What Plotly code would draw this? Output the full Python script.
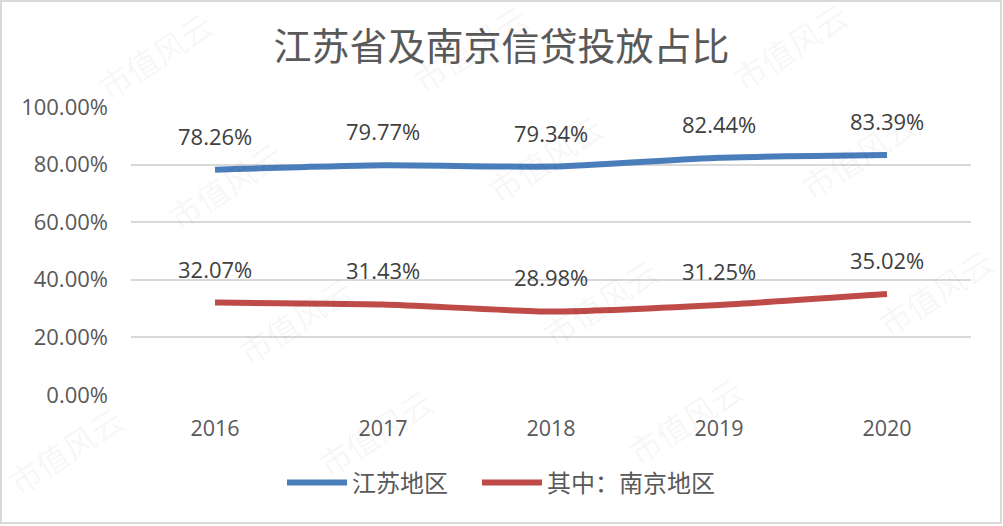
import plotly.graph_objects as go

# ---- data ----
years = ["2016", "2017", "2018", "2019", "2020"]
jiangsu = [0.7826, 0.7977, 0.7934, 0.8244, 0.8339]
nanjing = [0.3207, 0.3143, 0.2898, 0.3125, 0.3502]
series_names = ["江苏地区", "其中：南京地区"]
title_text = "江苏省及南京信贷投放占比"
y_ticks = [0, 0.2, 0.4, 0.6, 0.8, 1.0]
y_tick_labels = ["0.00%", "20.00%", "40.00%", "60.00%", "80.00%", "100.00%"]
watermark_text = "市值风云"

# ---- layout constants ----
W, H = 1003, 526
L, R, T, B = 131, 32, 107, 131
BLUE = "#4A7EBB"
RED = "#BE4B48"
GREY_TXT = "#595959"
GRID = "#D9D9D9"
NUM_FONT = "Open Sans"
CJK_FONT = "Noto Sans CJK SC"

plot_w = W - L - R
plot_h = H - T - B


def px_to_paper(px, py):
    return (px - L) / plot_w, (H - B - py) / plot_h


fig = go.Figure()
for name, vals, col, lg in [(series_names[0], jiangsu, BLUE, "legend"),
                            (series_names[1], nanjing, RED, "legend2")]:
    fig.add_trace(go.Scatter(
        x=years, y=vals, name=name, mode="lines", legend=lg,
        line=dict(color=col, width=6, shape="spline", smoothing=0.6),
        hoverinfo="skip",
    ))

annotations = []
for vals in (jiangsu, nanjing):
    for i, v in enumerate(vals):
        annotations.append(dict(
            x=i, y=v, xref="x", yref="y", text=f"{v*100:.2f}%",
            showarrow=False, yshift=34, xanchor="center", yanchor="middle",
            font=dict(family=NUM_FONT, size=22, color="#404040"),
        ))

# watermark (decorative, very faint)
wm_pos = [(155, 55), (470, 48), (790, 46),
          (225, 185), (545, 158), (858, 155),
          (295, 320), (600, 302), (935, 292),
          (65, 450), (375, 432), (685, 420)]
for (px, py) in wm_pos:
    xp, yp = px_to_paper(px, py)
    annotations.append(dict(
        x=xp, y=yp, xref="paper", yref="paper", text=watermark_text,
        showarrow=False, textangle=-33, xanchor="center", yanchor="middle",
        font=dict(family=CJK_FONT, size=32, color="rgba(0,0,0,0.055)"),
    ))

# outer border
bx0, by0 = px_to_paper(1, 1)
bx1, by1 = px_to_paper(1001, 523)
shapes = [dict(type="rect", xref="paper", yref="paper", x0=bx0, y0=by1, x1=bx1, y1=by0,
               line=dict(color="#D9D9D9", width=2), layer="above")]

legend_common = dict(orientation="h", xanchor="left", xref="container",
                     y=1 - 483 / H, yanchor="middle", yref="container",
                     font=dict(family=CJK_FONT, size=24, color=GREY_TXT),
                     itemwidth=60, bgcolor="rgba(0,0,0,0)")

fig.update_layout(
    width=W, height=H,
    margin=dict(l=L, r=R, t=T, b=B),
    paper_bgcolor="white", plot_bgcolor="white",
    title=dict(text=title_text, x=0.5, xanchor="center", xref="container",
               y=1 - 47 / H, yanchor="middle", yref="container",
               font=dict(family=CJK_FONT, size=38, color=GREY_TXT)),
    xaxis=dict(type="category", range=[-0.5, 4.5], showgrid=False, zeroline=False,
               showline=False, ticks="", ticklabelstandoff=18,
               tickfont=dict(family=NUM_FONT, size=21.5, color=GREY_TXT)),
    yaxis=dict(range=[-0.0005, 1.0005], tickvals=y_ticks, ticktext=y_tick_labels,
               showgrid=True, gridcolor=GRID, gridwidth=2, zeroline=False,
               showline=False, ticks="", ticklabelstandoff=22,
               tickfont=dict(family=NUM_FONT, size=22, color=GREY_TXT)),
    legend=dict(x=282 / W, **legend_common),
    legend2=dict(x=477 / W, **legend_common),
    annotations=annotations,
    shapes=shapes,
    showlegend=True,
)

fig.write_html("out.html")
